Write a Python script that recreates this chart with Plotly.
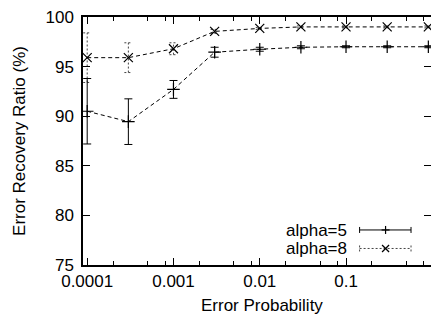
import plotly.graph_objects as go
import numpy as np

# ---- data ----
err_prob = [0.0001, 0.0003, 0.001, 0.003, 0.01, 0.03, 0.1, 0.3, 0.9]
alpha5 = [90.5, 89.45, 92.7, 96.45, 96.75, 96.95, 97.0, 97.0, 97.0]
alpha5_err = [3.3, 2.3, 0.9, 0.5, 0.2, 0.15, 0.1, 0.1, 0.1]
alpha8 = [95.9, 95.9, 96.8, 98.55, 98.85, 99.0, 99.0, 99.0, 99.0]
alpha8_err = [2.5, 1.5, 0.6, 0.2, 0.1, 0.1, 0.1, 0.1, 0.1]
series_names = ["alpha=5", "alpha=8"]
x_tickvals = [0.0001, 0.001, 0.01, 0.1, 1]
x_ticktext = ["0.0001", "0.001", "0.01", "0.1", "1"]
y_tickvals = [75, 80, 85, 90, 95, 100]

# ---- layout geometry ----
W, H = 431, 320
ML, MR, MT, MB = 82.5, 0, 17.3, 55
PW = W - ML - MR
PH = H - MT - MB
DECADE = 86.4
x0_log = -4 - 4.2 / DECADE
x1_log = x0_log + PW / DECADE
FONT = "Liberation Sans, Arial, Helvetica, sans-serif"
FS = 17

def px_x(px):
    return (px - ML) / PW

def px_y(py):
    return (H - MB - py) / PH

fig = go.Figure()

# alpha=8 error bars (dotted) built from data
cap = 4 / DECADE
ex, ey = [], []
for xi, yi, e in zip(err_prob, alpha8, alpha8_err):
    lo, hi = yi - e, yi + e
    ex += [xi, xi, None, xi * 10 ** -cap, xi * 10 ** cap, None, xi * 10 ** -cap, xi * 10 ** cap, None]
    ey += [lo, hi, None, lo, lo, None, hi, hi, None]
fig.add_trace(go.Scatter(x=ex, y=ey, mode="lines", line=dict(color="#444", width=1, dash="2px,2px"),
                         showlegend=False, hoverinfo="skip"))

# alpha=5
fig.add_trace(go.Scatter(
    x=err_prob, y=alpha5, mode="lines+markers", name=series_names[0],
    line=dict(color="black", width=1, dash="4px,3px"),
    marker=dict(symbol="cross-thin", size=9, line=dict(color="black", width=1.2)),
    error_y=dict(type="data", array=alpha5_err, visible=True, color="black", thickness=1, width=4),
    showlegend=False))

# alpha=8
fig.add_trace(go.Scatter(
    x=err_prob, y=alpha8, mode="lines+markers", name=series_names[1],
    line=dict(color="black", width=1, dash="4px,3px"),
    marker=dict(symbol="x-thin", size=9, line=dict(color="black", width=1.2)),
    showlegend=False))

# invisible trace for right mirror ticks axis
fig.add_trace(go.Scatter(x=err_prob, y=alpha5, yaxis="y2", mode="none", showlegend=False, hoverinfo="skip"))

minor_vals = []
for d in range(-5, 1):
    for m in (2, 5, 8):
        minor_vals.append(m * 10 ** d)

fig.update_layout(
    width=W, height=H,
    margin=dict(l=ML, r=MR, t=MT, b=MB, pad=0),
    paper_bgcolor="white", plot_bgcolor="white",
    font=dict(family=FONT, size=FS, color="black"),
    xaxis=dict(type="log", range=[x0_log, x1_log], showgrid=False, zeroline=False,
               showline=True, linecolor="black", linewidth=1.5, mirror="ticks",
               ticks="inside", ticklen=7, tickwidth=1, tickcolor="black",
               tickmode="array", tickvals=x_tickvals, ticktext=x_ticktext,
               ticklabelstandoff=0, automargin=False,
               minor=dict(tickmode="array", tickvals=minor_vals, ticks="inside", ticklen=4,
                          tickwidth=1, tickcolor="black", showgrid=False),
               tickfont=dict(family=FONT, size=FS)),
    yaxis=dict(range=[75, 100], showgrid=False, zeroline=False,
               showline=True, linecolor="black", linewidth=1.5, mirror=False,
               ticks="inside", ticklen=7, tickwidth=1, tickcolor="black",
               tickmode="array", tickvals=y_tickvals, ticklabelstandoff=4, automargin=False,
               tickfont=dict(family=FONT, size=FS)),
    yaxis2=dict(range=[75, 100], overlaying="y", side="right", anchor="x",
                showgrid=False, zeroline=False, showline=False, automargin=False,
                ticks="inside", ticklen=7, tickwidth=1, tickcolor="black",
                tickmode="array", tickvals=y_tickvals, showticklabels=False),
)

ann = []
# the "1" tick label at the clipped right edge
ann.append(dict(x=0, xref="x", y=px_y(283.5), yref="paper", text=x_ticktext[-1], showarrow=False,
                xanchor="center", yanchor="middle", font=dict(family=FONT, size=FS)))
# axis titles
ann.append(dict(x=px_x(261.5), xref="paper", y=px_y(305), yref="paper", text="Error Probability",
                showarrow=False, xanchor="center", yanchor="middle", font=dict(family=FONT, size=FS)))
ann.append(dict(x=px_x(19.5), xref="paper", y=px_y(141), yref="paper", text="Error Recovery Ratio (%)",
                showarrow=False, textangle=-90, xanchor="center", yanchor="middle",
                font=dict(family=FONT, size=FS)))
# legend texts
leg_y = [231, 249]
for name, ly in zip(series_names, leg_y):
    ann.append(dict(x=px_x(349), xref="paper", y=px_y(ly), yref="paper", text=name, showarrow=False,
                    xanchor="right", yanchor="middle", font=dict(family=FONT, size=FS)))
fig.update_layout(annotations=ann)

# legend samples (shapes in paper coordinates)
shapes = []
def seg(xa, ya, xb, yb, dash="solid", color="black", width=1):
    shapes.append(dict(type="line", xref="paper", yref="paper",
                       x0=px_x(xa), y0=px_y(ya), x1=px_x(xb), y1=px_y(yb),
                       line=dict(color=color, width=width, dash=dash)))

lx0, lx1, lxm = 359.5, 411, 385.5
# alpha=5 sample
y5 = 230
seg(lx0, y5, lx1, y5)
seg(lx0, y5 - 3, lx0, y5 + 3)
seg(lx1, y5 - 3, lx1, y5 + 3)
seg(lxm - 4, y5, lxm + 4, y5, width=1.2)
seg(lxm, y5 - 4, lxm, y5 + 4, width=1.2)
# alpha=8 sample
y8 = 248.5
seg(lx0, y8, lx1, y8, dash="2px,2px", color="#444")
seg(lx0, y8 - 3, lx0, y8 + 3, dash="2px,2px", color="#444")
seg(lx1, y8 - 3, lx1, y8 + 3, dash="2px,2px", color="#444")
seg(lxm - 3.5, y8 - 3.5, lxm + 3.5, y8 + 3.5, width=1.2)
seg(lxm - 3.5, y8 + 3.5, lxm + 3.5, y8 - 3.5, width=1.2)
fig.update_layout(shapes=shapes)

fig.write_html("out.html", config={"displayModeBar": False},
               post_script="document.body.style.margin='0px';document.body.style.overflow='hidden';")
